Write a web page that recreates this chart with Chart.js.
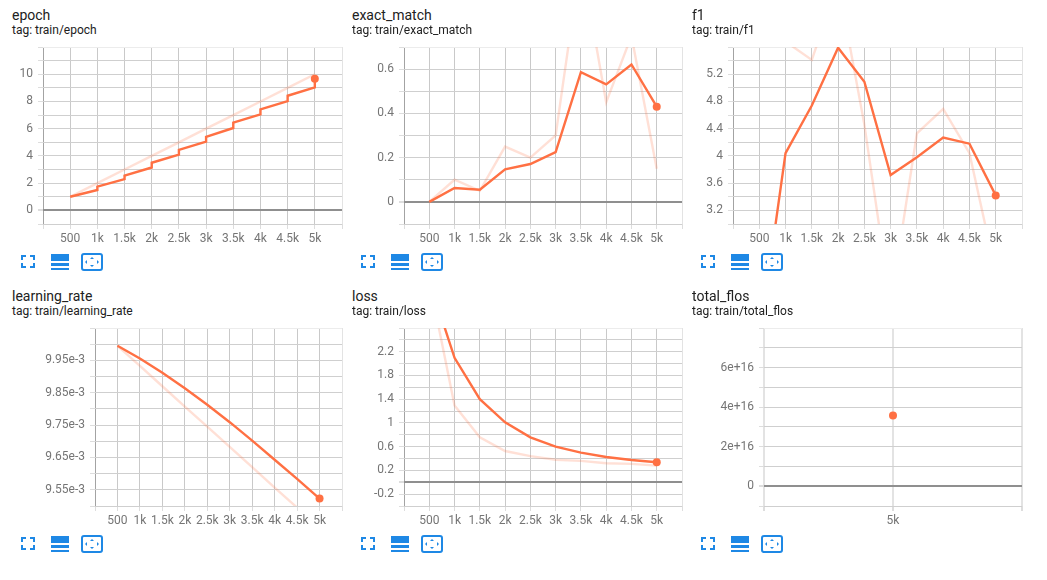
<!DOCTYPE html>
<html>
<head>
<meta charset="utf-8">
<style>
html,body{margin:0;padding:0;background:#fff;width:1047px;height:580px;overflow:hidden;font-family:Roboto,sans-serif}
canvas{position:absolute;display:block}
.t{position:absolute;font-size:14px;line-height:16px;color:#212121;white-space:nowrap}
.s{position:absolute;font-size:12px;line-height:14px;color:#212121;white-space:nowrap}
svg{position:absolute}
</style>
<script src="https://cdn.jsdelivr.net/npm/chart.js@4/dist/chart.umd.min.js"></script>
</head>
<body>
<script>
const steps = [500,1000,1500,2000,2500,3000,3500,4000,4500,5000];
const xTicks = [0,500,1000,1500,2000,2500,3000,3500,4000,4500,5000,5500];
const xLabels = ['','500','1k','1.5k','2k','2.5k','3k','3.5k','4k','4.5k','5k',''];

const epochSmoothX = [500,1000,1000,1500,1500,2000,2000,2500,2500,3000,3000,3500,3500,4000,4000,4500,4500,5000,5000];
const epochSmoothY = [1,1.5,1.75,2.3,2.55,3.15,3.5,4.1,4.45,5.05,5.4,6.05,6.45,7.05,7.42,8.03,8.42,9.03,9.67];
const epochRaw = [1,2,3,4,5,6,7,8,9,10];
const epochYTicks = [-1,0,1,2,3,4,5,6,7,8,9,10,11,12];
const epochYLabels = ['','0','','2','','4','','6','','8','','10','',''];

const exactSmooth = [0,0.063,0.055,0.147,0.171,0.225,0.586,0.531,0.621,0.43];
const exactRaw = [0,0.1,0.05,0.25,0.2,0.3,1.1,0.45,0.75,0.15];
const exactYTicks = [-0.1,0,0.1,0.2,0.3,0.4,0.5,0.6,0.7];
const exactYLabels = ['','0','','0.2','','0.4','','0.6',''];

const f1Smooth = [1.3,4.04,4.74,5.59,5.09,3.72,3.98,4.27,4.18,3.42];
const f1Raw = [null,5.68,5.41,6.55,4.46,1.82,4.33,4.69,4.04,2.29];
const f1YTicks = [3,3.2,3.4,3.6,3.8,4,4.2,4.4,4.6,4.8,5,5.2,5.4,5.6];
const f1YLabels = ['','3.2','','3.6','','4','','4.4','','4.8','','5.2','',''];

const lrSmooth = [0.009995,0.009956,0.009912,0.009864,0.009813,0.009759,0.009702,0.009643,0.009584,0.009523];
const lrRaw = [0.009995,0.009933,0.00987,0.009807,0.009745,0.009683,0.00962,0.009557,0.009495,0.009432];
const lrYTicks = [0.0095,0.00955,0.0096,0.00965,0.0097,0.00975,0.0098,0.00985,0.0099,0.00995,0.01,0.01005];
const lrYLabels = ['','9.55e-3','','9.65e-3','','9.75e-3','','9.85e-3','','9.95e-3','',''];

const lossSmooth = [3.4,2.098,1.4,1.01,0.757,0.6,0.5,0.426,0.376,0.337];
const lossRaw = [3.4,1.296,0.757,0.527,0.44,0.38,0.36,0.32,0.31,0.28];
const lossYTicks = [-0.4,-0.2,0,0.2,0.4,0.6,0.8,1,1.2,1.4,1.6,1.8,2,2.2,2.4,2.6];
const lossYLabels = ['','-0.2','','0.2','','0.6','','1','','1.4','','1.8','','2.2','',''];

const flosSteps = [5000];
const flosValues = [3.57e16];
const flosXTicks = [4000,5000,6000];
const flosXLabels = ['','5k',''];
const flosYTicks = [-1e16,0,1e16,2e16,3e16,4e16,5e16,6e16,7e16,8e16];
const flosYLabels = ['','0','','2e+16','','4e+16','','6e+16','',''];

const ORANGE = '#ff7043', FAINT = 'rgba(255,112,67,0.22)';
const zip = (xs, ys) => xs.map((x, i) => ({x, y: ys[i]}));

function panel(cfg) {
  const pad = 6;
  const cx = cfg.col, cy = cfg.plot[1] - 4;
  const W = cfg.plot[2] + pad - cx, H = cfg.plot[3] + 26 - cy;
  const c = document.createElement('canvas');
  c.style.left = cx + 'px'; c.style.top = cy + 'px';
  c.style.width = W + 'px'; c.style.height = H + 'px';
  c.width = W; c.height = H;
  document.body.appendChild(c);

  const t = document.createElement('div'); t.className = 't'; t.textContent = cfg.title;
  t.style.left = cfg.tx + 'px'; t.style.top = cfg.ty + 'px'; document.body.appendChild(t);
  const s = document.createElement('div'); s.className = 's'; s.textContent = 'tag: ' + cfg.tag;
  s.style.left = cfg.tx + 'px'; s.style.top = (cfg.ty + 16) + 'px'; document.body.appendChild(s);
  icons(cfg.tx + 9, cfg.iy);

  const datasets = [];
  if (cfg.raw) datasets.push({data: cfg.raw, showLine: true, borderColor: FAINT, borderWidth: 2.4, pointRadius: 0, clip: 0, spanGaps: false});
  if (cfg.smooth) datasets.push({data: cfg.smooth, showLine: true, borderColor: ORANGE, borderWidth: 2.4, pointRadius: 0, clip: 0});
  datasets.push({data: [cfg.dot], showLine: false, backgroundColor: ORANGE, borderColor: ORANGE, pointRadius: 4, borderWidth: 0, clip: false});

  new Chart(c.getContext('2d'), {
    type: 'scatter',
    data: {datasets},
    options: {
      responsive: false, animation: false, devicePixelRatio: 1,
      layout: {padding: {top: 4, right: pad, left: 0, bottom: 0}},
      plugins: {legend: {display: false}, tooltip: {enabled: false}},
      scales: {
        x: {
          type: 'linear', min: cfg.xTicks[0], max: cfg.xTicks[cfg.xTicks.length - 1],
          afterBuildTicks: a => { a.ticks = cfg.xTicks.map(v => ({value: v})); },
          afterFit: a => { a.height = cy + H - cfg.plot[3]; a.paddingLeft = 0; a.paddingRight = 0; },
          border: {display: false},
          grid: {
            color: ctx => (ctx.tick && ctx.tick.value === cfg.xTicks[0] && !cfg.lightY) ? '#a3a3a3'
              : (cfg.lightY || (ctx.tick && ctx.tick.value === cfg.xTicks[cfg.xTicks.length - 1])) ? '#e3e3e3' : '#c9c9c9',
            tickColor: '#dddddd', tickLength: 5, lineWidth: () => cfg.lightY ? 2 : 1
          },
          ticks: {
            autoSkip: false, maxRotation: 0, minRotation: 0, padding: 3,
            color: '#757575', font: {family: 'Roboto', size: 12},
            callback: (v, i) => cfg.xLabels[i]
          }
        },
        y: {
          type: 'linear', min: cfg.yTicks[0], max: cfg.yTicks[cfg.yTicks.length - 1],
          afterBuildTicks: a => { a.ticks = cfg.yTicks.map(v => ({value: v})); },
          afterFit: a => { a.width = cfg.plot[0] - cx; a.paddingTop = 0; a.paddingBottom = 0; },
          border: {display: false},
          grid: {
            color: ctx => (ctx.tick && ctx.tick.value === 0) ? '#8f8f8f'
              : (ctx.index === cfg.yTicks.length - 1) ? '#ececec' : '#cfcfcf',
            lineWidth: ctx => (ctx.tick && ctx.tick.value === 0) ? 2 : 1,
            tickColor: '#dddddd', tickLength: 5
          },
          ticks: {
            autoSkip: false, padding: 5,
            color: '#757575', font: {family: 'Roboto', size: 12},
            callback: (v, i) => cfg.yLabels[i]
          }
        }
      }
    }
  });
}

function icons(x, y) {
  const col = '#1e88e5';
  const svg = document.createElementNS('http://www.w3.org/2000/svg', 'svg');
  svg.setAttribute('width', 84); svg.setAttribute('height', 22);
  svg.style.left = x + 'px'; svg.style.top = (y - 2) + 'px';
  svg.innerHTML =
    `<path d="M1 6V2H5M9 2H13V6M13 9V13H9M5 13H1V9" transform="translate(0,2)" fill="none" stroke="${col}" stroke-width="2"/>` +
    `<rect x="30" y="2" width="18" height="7" fill="${col}"/><rect x="30" y="11" width="18" height="3" fill="${col}"/><rect x="30" y="16" width="18" height="2" fill="${col}"/>` +
    `<rect x="61" y="2" width="20" height="16" rx="2" fill="none" stroke="${col}" stroke-width="2"/>` +
    `<path d="M71 5l2 2h-4zM71 15l2-2h-4zM64 10l2-2v4zM78 10l-2-2v4z" fill="${col}"/>`;
  document.body.appendChild(svg);
}

panel({title:'epoch', tag:'train/epoch', col:0, tx:12, ty:7, iy:254, plot:[43,47,342,224],
  xTicks, xLabels, yTicks:epochYTicks, yLabels:epochYLabels,
  raw:zip(steps,epochRaw), smooth:zip(epochSmoothX,epochSmoothY), dot:{x:5000,y:9.67}});
panel({title:'exact_match', tag:'train/exact_match', col:345, tx:352, ty:7, iy:254, plot:[404,47,682,224],
  xTicks, xLabels, yTicks:exactYTicks, yLabels:exactYLabels,
  raw:zip(steps,exactRaw), smooth:zip(steps,exactSmooth), dot:{x:5000,y:0.43}});
panel({title:'f1', tag:'train/f1', col:690, tx:692, ty:7, iy:254, plot:[733,47,1022,224],
  xTicks, xLabels, yTicks:f1YTicks, yLabels:f1YLabels,
  raw:zip(steps,f1Raw), smooth:zip(steps,f1Smooth), dot:{x:5000,y:3.42}});
panel({title:'learning_rate', tag:'train/learning_rate', col:0, tx:12, ty:288, iy:536, plot:[95,328,342,506],
  xTicks, xLabels, yTicks:lrYTicks, yLabels:lrYLabels,
  raw:zip(steps,lrRaw), smooth:zip(steps,lrSmooth), dot:{x:5000,y:0.009523}});
panel({title:'loss', tag:'train/loss', col:345, tx:352, ty:288, iy:536, plot:[404,328,682,506],
  xTicks, xLabels, yTicks:lossYTicks, yLabels:lossYLabels,
  raw:zip(steps,lossRaw), smooth:zip(steps,lossSmooth), dot:{x:5000,y:0.337}});
panel({title:'total_flos', tag:'train/total_flos', col:690, tx:692, ty:288, iy:536, plot:[764,328,1022,506],
  xTicks:flosXTicks, xLabels:flosXLabels, yTicks:flosYTicks, yLabels:flosYLabels, lightY:true,
  dot:{x:flosSteps[0],y:flosValues[0]}});
</script>
</body>
</html>
